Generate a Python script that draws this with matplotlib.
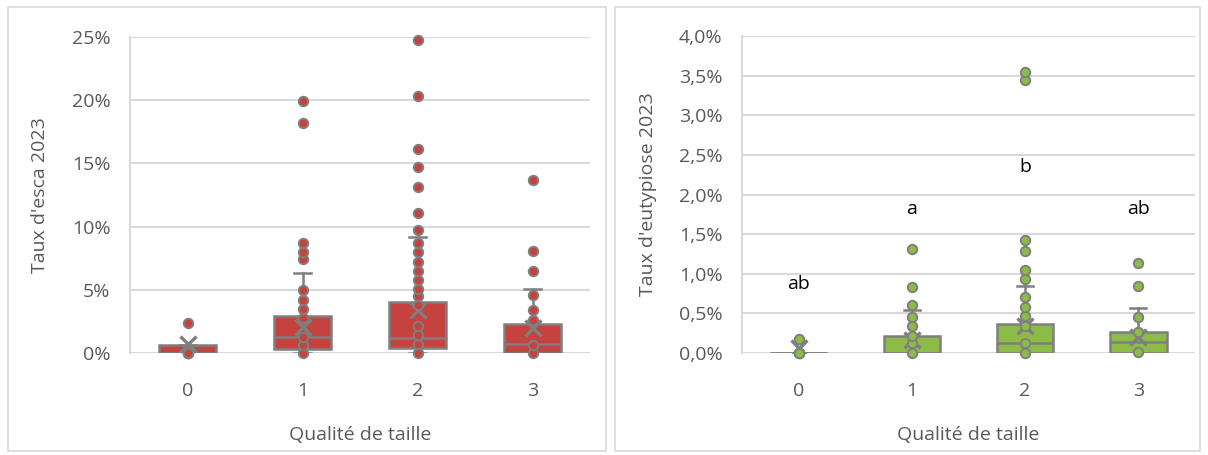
import matplotlib
matplotlib.use("Agg")
import matplotlib.pyplot as plt
from matplotlib.patches import Rectangle
from matplotlib.ticker import FuncFormatter

plt.rcParams['font.family'] = ['Open Sans', 'DejaVu Sans']

categories = ['0', '1', '2', '3']

# Taux d'esca 2023 (%) : points individuels par classe de qualité de taille
esca_points = [
    [0, 0, 0, 0, 2.35],
    [0, 0.66, 1.3, 2.8, 3.5, 4.2, 4.95, 7.4, 8.0, 8.7, 18.2, 19.9],
    [0, 0.7, 1.4, 2.1, 3.8, 4.5, 5.1, 5.8, 6.5, 7.2, 8.0, 8.7, 9.7, 11.1, 13.1, 14.7, 16.1, 20.3, 24.8],
    [0, 0.6, 2.6, 3.4, 4.6, 6.5, 8.1, 13.7],
]
esca_q1 = [0.0, 0.35, 0.4, 0.0]
esca_med = [0.0, 1.26, 1.2, 0.74]
esca_q3 = [0.6, 2.9, 4.0, 2.27]
esca_whis_hi = [0.6, 6.35, 9.2, 5.05]
esca_mean = [0.75, 2.05, 3.4, 1.95]

# Taux d'eutypiose 2023 (%)
euty_points = [
    [0, 0, 0, 0.18],
    [0, 0.12, 0.22, 0.345, 0.46, 0.61, 0.83, 1.31],
    [0, 0.12, 0.34, 0.47, 0.58, 0.71, 0.93, 1.05, 1.29, 1.43, 3.44, 3.55],
    [0.01, 0.265, 0.45, 0.85, 1.14],
]
euty_q1 = [0.0, 0.0, 0.0, 0.0]
euty_med = [0.0, 0.0, 0.13, 0.14]
euty_q3 = [0.0, 0.22, 0.36, 0.27]
euty_whis_hi = [0.0, 0.54, 0.85, 0.57]
euty_mean = [0.06, 0.16, 0.34, 0.2]
euty_letters = ['ab', 'a', 'b', 'ab']
euty_letter_y = [0.876, 1.82, 2.35, 1.82]

W, H = 1208, 455
fig = plt.figure(figsize=(W / 100, H / 100), dpi=100)
fig.patch.set_facecolor('white')

grey = '#7F7F7F'
grid_c = '#D9D9D9'
text_c = '#595959'

# cadres des deux graphiques
for x0, x1 in [(8, 606), (615, 1200)]:
    fig.patches.append(Rectangle((x0 / W, 4 / H), (x1 - x0) / W, (H - 11) / H,
                                 transform=fig.transFigure, fill=False,
                                 edgecolor=grid_c, lw=1.2))


def draw_box(ax, points, q1, med, q3, whi, mean, fill, ymax, step, fmt, ylabel, ylab_x):
    stats = []
    for i in range(len(categories)):
        stats.append(dict(q1=q1[i], med=med[i], q3=q3[i], whislo=0,
                          whishi=whi[i], mean=mean[i], fliers=[]))
    ax.bxp(stats, positions=range(len(categories)), widths=0.5, patch_artist=True,
           showmeans=True, showfliers=False, capwidths=0.14,
           boxprops=dict(facecolor=fill, edgecolor=grey, lw=1.8),
           medianprops=dict(color=grey, lw=1.8),
           whiskerprops=dict(color=grey, lw=1.8),
           capprops=dict(color=grey, lw=1.8),
           meanprops=dict(marker='x', markeredgecolor=grey, markersize=12, markeredgewidth=2.4),
           zorder=3)
    for i, pts in enumerate(points):
        ax.scatter([i] * len(pts), pts, s=46, color=fill, edgecolor=grey, lw=1.4,
                   zorder=4, clip_on=False)
    ax.set_xlim(-0.5, len(categories) - 0.5)
    ax.set_ylim(0, ymax)
    ax.set_yticks([k * step for k in range(int(round(ymax / step)) + 1)])
    ax.yaxis.set_major_formatter(FuncFormatter(fmt))
    ax.set_xticks(range(len(categories)))
    ax.set_xticklabels(categories)
    ax.grid(axis='y', color=grid_c, lw=1.5, zorder=0)
    ax.set_axisbelow(True)
    for s in ['top', 'right', 'bottom']:
        ax.spines[s].set_visible(False)
    ax.spines['left'].set_color(grid_c)
    ax.spines['left'].set_linewidth(1.5)
    ax.tick_params(length=0, labelsize=14, colors=text_c, pad=14)
    ax.tick_params(axis='x', pad=21)
    ax.set_xlabel('Qualité de taille', fontsize=14, color=text_c, va='center')
    ax.xaxis.set_label_coords(0.5, -0.259)
    ax.set_ylabel(ylabel, fontsize=14, color=text_c, va='center')
    ax.yaxis.set_label_coords(ylab_x, 0.5)


ax1 = fig.add_axes([130 / W, (H - 353) / H, 460 / W, 316 / H])
draw_box(ax1, esca_points, esca_q1, esca_med, esca_q3, esca_whis_hi, esca_mean,
         '#C6423E', 25, 5, lambda v, p: f'{v:.0f}%', "Taux d'esca 2023", (40 - 130) / 460)

ax2 = fig.add_axes([742 / W, (H - 353) / H, 453 / W, 317 / H])
draw_box(ax2, euty_points, euty_q1, euty_med, euty_q3, euty_whis_hi, euty_mean,
         '#8DBC46', 4.0, 0.5, lambda v, p: f'{v:.1f}%'.replace('.', ','),
         "Taux d'eutypiose 2023", (648 - 742) / 453)
for i, (lab, y) in enumerate(zip(euty_letters, euty_letter_y)):
    ax2.text(i, y, lab, ha='center', va='center', fontsize=14, color='black', zorder=5)

fig.savefig('out.png', dpi=100, facecolor='white')
